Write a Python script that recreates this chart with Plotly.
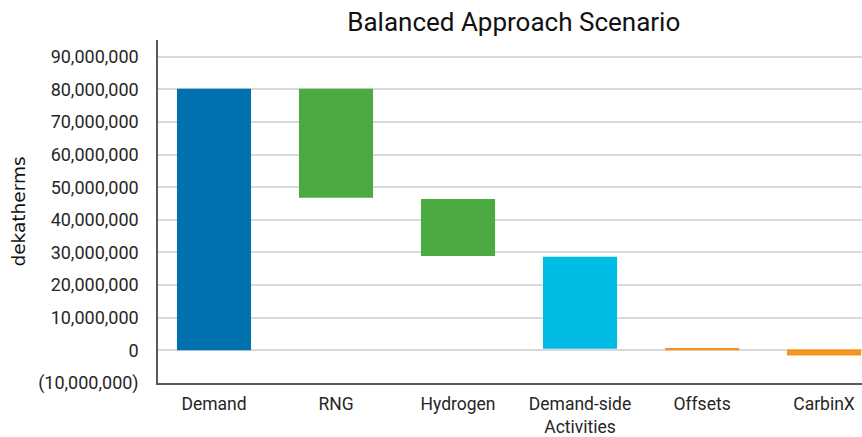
import plotly.graph_objects as go

categories = ["Demand", "RNG", "Hydrogen", "Demand-side<br>Activities", "Offsets", "CarbinX"]
bar_bottom = [0, 46_800_000, 28_900_000, 500_000, 0, -1_600_000]
bar_top = [80_200_000, 80_200_000, 46_400_000, 28_650_000, 700_000, 300_000]
bar_colors = ["#0070AF", "#4BAA42", "#4BAA42", "#00BBE3", "#F7941D", "#F7941D"]

tick_vals = [-10_000_000, 0, 10_000_000, 20_000_000, 30_000_000, 40_000_000,
             50_000_000, 60_000_000, 70_000_000, 80_000_000, 90_000_000]
tick_text = ["(10,000,000)", "0", "10,000,000", "20,000,000", "30,000,000", "40,000,000",
             "50,000,000", "60,000,000", "70,000,000", "80,000,000", "90,000,000"]

heights = [t - b for t, b in zip(bar_top, bar_bottom)]
xpos = list(range(len(categories)))

fig = go.Figure(go.Bar(
    x=xpos, y=heights, base=bar_bottom,
    marker=dict(color=bar_colors, line=dict(width=0)),
    width=0.607,
))

fig.update_layout(
    width=862, height=437,
    margin=dict(l=158, r=0, t=40, b=54),
    paper_bgcolor="white", plot_bgcolor="white",
    showlegend=False,
    font=dict(family="Roboto, sans-serif", color="#262626"),
    title=dict(text="Balanced Approach Scenario", x=0.596, xanchor="center",
               y=0.95, yanchor="middle",
               font=dict(size=26, family="Roboto, sans-serif", color="#111111")),
)
fig.update_xaxes(
    range=[-0.459, 5.311],
    tickvals=xpos, ticktext=categories,
    tickfont=dict(size=17.5),
    showgrid=False, zeroline=False,
    showline=True, linecolor="#595959", linewidth=1.5,
    ticks="", ticklabelstandoff=4, automargin=False,
)
fig.update_yaxes(
    range=[-10_000_000, 95_100_000],
    tickvals=tick_vals, ticktext=tick_text,
    tickfont=dict(size=18),
    showgrid=True, gridcolor="#D9D9D9", gridwidth=1.5,
    zeroline=False,
    showline=True, linecolor="#595959", linewidth=1.5,
    ticks="", ticklabelstandoff=14, automargin=False,
    title=dict(text="dekatherms", font=dict(size=18.5, family="DejaVu Sans, sans-serif", color="#111111"),
               standoff=8),
)

fig.write_html("out.html", config={"displayModeBar": False})

with open("out.html", "r", encoding="utf-8") as f:
    html = f.read()
html = html.replace("<head>", "<head><style>html,body{margin:0;padding:0;overflow:hidden;}</style>", 1)
with open("out.html", "w", encoding="utf-8") as f:
    f.write(html)
